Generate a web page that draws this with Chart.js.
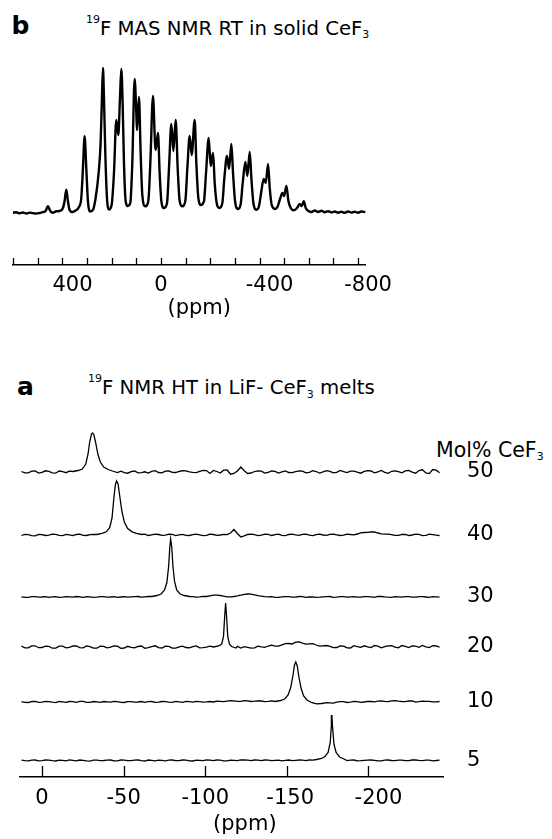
<!DOCTYPE html>
<html>
<head>
<meta charset="utf-8">
<script src="https://cdn.jsdelivr.net/npm/chart.js@4.4.0/dist/chart.umd.min.js"></script>
<style>
    html, body { margin: 0; padding: 0; background: #fff; }
    body { width: 552px; height: 839px; position: relative; overflow: hidden;
           font-family: "DejaVu Sans", "Liberation Sans", Arial, sans-serif; color: #000; }
    canvas { position: absolute; left: 0; }
    .txt { position: absolute; white-space: nowrap; line-height: 1; }
    .tag { font-size: 25px; font-weight: bold; }
    .title { font-size: 19.7px; }
    .head { font-size: 20.5px; }
    .sup { font-size: 11px; position: relative; top: -12px; }
    .sub { font-size: 11px; position: relative; top: 3.5px; }
</style>
</head>
<body>
<div class="txt tag" style="left:11.5px; top:12.5px;">b</div>
<div class="txt title" style="left:86px; top:18.8px;"><span class="sup">19</span>F MAS NMR RT in solid CeF<span class="sub">3</span></div>
<canvas id="solidChart" width="552" height="290" style="top:45px"></canvas>

<div class="txt tag" style="left:17px; top:373.5px;">a</div>
<div class="txt title" style="left:88px; top:378.3px;"><span class="sup">19</span>F NMR HT in LiF- CeF<span class="sub">3</span> melts</div>
<div class="txt head" style="left:436px; top:439.7px;">Mol% CeF<span class="sub">3</span></div>
<canvas id="meltChart" width="552" height="439" style="top:400px"></canvas>

<script>
// ---- panel b: 19F MAS NMR of solid CeF3 (ppm, intensity) ----
const solidSpectrum = [
    [601, 0.3], [587.6, 0.7], [574, -0.3], [560.5, 0.5], [547, -0.5], [533.4, 0.4], [519.9, -0.2],
    [506.4, -0.6], [492.9, 0], [479.3, 0.8], [468.5, 2.0], [459, 6.7], [449.5, 2.0], [438.7, 0.3],
    [425.1, 1.7], [411.6, 2.0], [398, 5], [391.3, 12], [384.5, 23.3], [377.8, 12], [371, 3],
    [360.1, 1.0], [346.6, 2.5], [333.1, 6], [323.6, 15], [316.8, 45], [310.1, 76.7], [303.3, 45],
    [296.6, 12], [287.1, 1.5], [276.2, 3], [265.4, 15], [253.2, 40], [245.1, 70], [239.7, 115],
    [235.6, 145], [231.5, 115], [226.1, 60], [219.3, 15], [211.2, 3.5], [200.4, 8], [190.9, 40],
    [181.4, 93], [173.3, 78], [166.5, 115], [161.1, 144], [155.7, 110], [150.3, 50], [143.5, 12],
    [135.4, 7], [124.6, 10], [116.5, 50], [107, 134], [100.2, 100], [97.5, 83], [89.4, 116],
    [82.6, 60], [75.8, 18], [63.6, 6.7], [51.5, 12], [43.3, 50], [32.5, 117], [24.4, 70],
    [21.7, 63], [12.2, 80], [5.4, 40], [-1.4, 12], [-12.2, 5], [-24.4, 10], [-32.5, 45],
    [-42, 89], [-50.1, 62], [-59.6, 93], [-67.7, 45], [-75.8, 12], [-86.6, 6.7], [-98.8, 12],
    [-107, 45], [-116.4, 77], [-124.6, 58], [-136.7, 93], [-143.5, 50], [-151.6, 15], [-162.5, 8],
    [-174.6, 12], [-182.8, 40], [-193.6, 75], [-201.7, 47], [-211.2, 60], [-218, 30], [-226.1, 10],
    [-236.9, 5], [-249.1, 10], [-257.2, 35], [-268, 57], [-276.2, 44], [-285.7, 69], [-292.4, 40],
    [-300.6, 12], [-312.7, 4], [-323.6, 9], [-331.7, 30], [-342.5, 51], [-350.6, 37], [-360.1, 61],
    [-366.9, 35], [-375, 10], [-387.2, 3.3], [-398, 7], [-407.5, 22], [-417, 34], [-425.1, 30],
    [-434.6, 49], [-441.4, 25], [-449.5, 8], [-463, 4], [-472.5, 6], [-483.3, 14], [-492.8, 20],
    [-499.6, 17], [-509.1, 27], [-517.2, 12], [-526.6, 5], [-538.8, 2.7], [-552.4, 5], [-563.2, 9],
    [-571.3, 7], [-579.5, 11.7], [-587.6, 5], [-598.4, 2], [-610.6, 1], [-624.2, 2.5], [-637.7, 1],
    [-651.2, 2.2], [-664.8, 0.8], [-678.3, 1.8], [-691.8, 0.5], [-705.4, 1.5], [-718.9, 0.3],
    [-732.4, 1.2], [-746, 0.2], [-759.5, 1.5], [-773, 0.4], [-786.6, 1.3], [-800.1, 0.2],
    [-813.6, 1.5], [-829.9, 0.8]
];
const solidTicks = [600, 500, 400, 300, 200, 100, 0, -100, -200, -300, -400, -500, -600, -700, -800];
const solidTickLabels = [400, 0, -400, -800];

// ---- panel a: 19F NMR of LiF-CeF3 melts ----
const compositions = ['50', '40', '30', '20', '10', '5'];
const meltTicks = [0, -50, -100, -150, -200];

// baseline read every 4.2 ppm, plus the points half way between (null where a peak takes over)
const gridPpm = [12.6, 8.4, 4.2, 0, -4.2, -8.4, -12.6, -16.8, -21, -25.2, -29.4, -33.6, -37.8, -42,
    -46.2, -50.4, -54.6, -58.8, -63, -67.2, -71.4, -75.6, -79.8, -84, -88.2, -92.4, -96.6, -100.8,
    -105, -109.2, -113.4, -117.6, -121.8, -126, -130.2, -134.4, -138.6, -142.8, -147, -151.2,
    -155.4, -159.6, -163.8, -168, -172.2, -176.4, -180.6, -184.8, -189, -193.2, -197.4, -201.6,
    -205.8, -210, -214.2, -218.4, -222.6, -226.8, -231, -235.2, -239.4, -243.6];
const midPpm = [10.5, 6.3, 2.1, -2.1, -6.3, -10.5, -14.7, -18.9, -23.1, -27.3, -31.5, -35.7, -39.9,
    -44.1, -48.3, -52.5, -56.7, -60.9, -65.1, -69.3, -73.5, -77.7, -81.9, -86.1, -90.3, -94.5, -98.7,
    -102.9, -107.1, -111.3, -115.5, -119.7, -123.9, -128.1, -132.3, -136.5, -140.7, -144.9, -149.1,
    -153.3, -157.5, -161.7, -165.9, -170.1, -174.3, -178.5, -182.7, -186.9, -191.1, -195.3, -199.5,
    -203.7, -207.9, -212.1, -216.3, -220.5, -224.7, -228.9, -233.1, -237.3, -241.5];

const base50 = [0.5, -0.8, 1.0, -0.4, 0.6, -1.2, 0.3, 0.8, null, null, null, null, null, null, null,
    -0.6, 0.4, -0.9, 0.2, 0.7, -0.5, 0.9, -0.3, 0.5, 1.1, -0.4, 0.6, 1.4,
    1.5, -1.0, 2.0, -1.5, 5.0, -1.5, 0.5,
    0.8, -0.4, 0.6, 0.2, -0.5, 0.4, 0.9, -0.3, 0.5, 0.1, 0.7, -0.4, 0.3, 0.8, -0.2, 0.6, 1.0, 0.2,
    -0.3, 0.7, 0.4, 1.1, -0.2, 1.5, -1.0, 2.5, -0.8];
const mid50 = [-0.9, 0.8, -1.1, 1.2, -0.8, 1.0, -0.7, null, null, null, null, null, null, null,
    0.9, -1.2, 1.0, -0.6, -1.1, 1.3, -0.9, 1.2, -0.5, 1.3, 0.2, -0.6, 1.6, -1.4, 0.5, 1.8, -2.2, 1.0,
    1.2, -1.0, 1.2, -1.1, 1.0, -1.0, 1.1, -0.7, 1.2, -0.9, 1.4, -1.0, 1.3, -0.8, 1.5, -0.6, 0.9, -1.2,
    1.4, -0.9, 1.5, -1.3, 1.2, -0.8, 1.6, -1.2, 2.2, -1.6, 1.8];

const base40 = [-0.5, 0.3, -0.8, 0.4, -0.2, 0.6, -0.6, 0.2, 0.5, -0.3, 0.4, null, null, null, null,
    null, null, null, 0.8, 0.2, 0.5, -0.2, 0.6, 0.1, -0.4, 0.4, 0.2, -0.3, 0.5, 0.0,
    0.3, 5.5, -2.0, 0.5, 0.4, -0.2, 0.6, 0.3, -0.3, 0.5, 0.2, 0.7, -0.1, 0.4, 0.0, 0.6, 0.2, -0.2,
    0.5, 1.0, 2.5, 3.2, 2.0, 0.8, 0.3, -0.3, 0.5, 0.0, 0.6, -0.4, 0.3, -0.5];
const mid40 = [0.6, -0.6, 0.7, -0.5, 0.8, -0.4, 0.7, -0.6, 0.9, -0.5, 0.6, null, null, null, null,
    null, null, null, -0.5, 0.9, -0.4, 0.8, -0.6, 0.7, -0.5, 0.9, -0.6, 0.8, -0.4, 0.6, 2.0, 1.5,
    -0.8, 0.8, -0.6, 0.9, -0.5, 0.8, -0.7, 0.9, -0.4, 0.8, -0.6, 0.9, -0.3, 0.8, -0.5, 0.9, 0.2,
    2.2, 2.6, 3.0, 1.2, 0.9, -0.4, 0.7, -0.5, 0.8, -0.6, 0.8, -0.2];

const base30 = [0.2, -0.4, 0.3, 0.0, -0.3, 0.4, -0.2, 0.1, 0.5, -0.3, 0.2, -0.1, 0.4, 0.0, -0.4, 0.3,
    0.1, 0.5, 0.2, null, null, null, null, null, null,
    0.3, 0.1, 0.5, 1.8, 1.5, 0.2, 0.5, 1.8, 3.0, 2.2, 0.8, 0.1,
    -0.3, 0.2, 0.4, -0.2, 0.3, 0.0, -0.3, 0.2, 0.5, -0.1, 0.3, 0.1, -0.2, 0.4, 0.2, 0.6, 0.1, -0.3,
    0.2, 0.4, -0.1, 0.3, 0.0, 0.4, -0.2];
const mid30 = [-0.3, 0.4, -0.2, 0.3, 0.2, -0.3, 0.4, -0.2, 0.1, 0.4, -0.3, 0.3, -0.2, 0.3, 0.0,
    -0.2, 0.4, -0.1, 0.5, null, null, null, null, null, null,
    -0.2, 0.6, 1.2, 1.9, 0.8, 0.1, 1.1, 2.6, 2.8, 1.4, 0.3,
    0.4, -0.3, 0.3, -0.2, 0.5, -0.3, 0.2, -0.1, 0.4, -0.3, 0.3, -0.2, 0.4, -0.1, 0.3, -0.3, 0.5,
    -0.2, 0.3, -0.1, 0.4, -0.2, 0.3, -0.3, 0.2];

const base20 = [0.8, -0.9, 1.2, -0.5, 0.6, -1.1, 0.9, -0.3, 1.0, -0.8, 0.4, -1.2, 0.7, -0.2, 0.9, -1.0,
    -0.4, 0.5, -1.3, 0.3, -0.6, 0.8, -1.1, 0.2, -0.5, 0.4, -0.9, -0.2, null, null, null, null,
    -1.0, -0.3, -0.8, 0.2, 1.0, 0.8, 2.2, 3.5, 4.8, 3.8, 3.2, 2.0, 1.2, 0.6,
    -0.5, 0.8, -1.0, 0.4, 1.2, -0.6, 0.9, 0.3, 1.4, -0.7, 0.6, 1.1, -0.4, 0.2, 1.3, -0.2];
const mid20 = [-0.8, 1.1, -0.7, 0.9, -1.2, 0.8, -0.9, 1.2, -0.6, 1.0, -1.1, 0.9, -0.8, 1.1, -1.3, 0.7,
    -0.9, 1.0, -0.6, 1.2, -1.0, 0.6, -1.2, 0.9, -0.8, 1.1, -0.7, 0.8, null, null, null,
    0.6, 0.4, -1.2, 0.9, -0.3, 1.8, 0.9, 3.4, 3.0, 5.0, 2.8, 3.4, 0.9, 1.5, -0.6, 1.2, -0.9, 1.3,
    -0.4, 0.2, 1.5, -0.8, 1.2, -0.2, 1.5, -0.5, 0.9, 1.6, -0.6, 1.0];

const base10 = [0.3, -0.5, 0.6, -0.2, 0.4, -0.6, 0.2, 0.5, -0.3, 0.6, -0.4, 0.1, 0.5, -0.2, 0.3, -0.5,
    0.4, 0.0, -0.3, 0.5, -0.1, 0.3, -0.4, 0.2, 0.6, -0.2, 0.4, 0.1, 0.0, 0.6, 0.9, 1.2, 0.7, 1.1,
    0.8, 1.0, 0.6, null, null, null, null, null, null, null, null,
    -0.8, -0.2, 0.3, -0.1, 0.4, 0.0, 0.5, 0.8, 0.6, 1.2, 0.9, 0.4, 1.0, 0.3, 0.7, 0.2, 0.5];
const mid10 = [-0.4, 0.5, -0.3, 0.6, -0.2, 0.5, -0.4, 0.3, 0.6, -0.3, 0.5, -0.4, 0.2, 0.6, -0.4, 0.3,
    -0.2, 0.5, 0.3, -0.4, 0.5, -0.2, 0.6, -0.3, 0.4, 0.6, -0.2, 0.5, 0.9, 0.3, 1.3, 0.6, 1.4, 0.5,
    1.2, 0.4, 1.1, null, null, null, null, null, null, null, null,
    -1.2, 0.4, -0.5, 0.6, -0.3, 0.7, 0.2, 1.1, 0.3, 1.4, 0.5, 1.2, -0.1, 0.9, 0.6, 0.1];

const base5 = [0.3, -0.4, 0.5, -0.2, 0.4, -0.5, 0.2, 0.6, -0.3, 0.1, -0.6, 0.4, 0.0, 0.5, -0.4, 0.3,
    -0.2, 0.6, -0.5, 0.2, 0.4, -0.3, 0.5, -0.1, 0.3, -0.5, 0.2, 0.6, -0.2, 0.4, -0.4, 0.1, 0.7,
    0.3, 0.5, -0.2, 0.4, 0.1, -0.3, 0.5, 0.2, 0.3, 0.6, null, null, null, null, null,
    0.4, -0.3, 0.2, 0.5, -0.4, 0.3, 0.0, 0.4, -0.2, 0.5, 0.1, 0.3, -0.3, 0.4];
const mid5 = [-0.2, 0.4, -0.3, 0.5, -0.1, 0.4, -0.3, 0.2, 0.5, -0.4, 0.3, -0.2, 0.4, -0.3, 0.5, -0.1,
    0.4, -0.2, 0.5, -0.3, 0.1, 0.4, -0.2, 0.5, -0.3, 0.4, -0.1, 0.3, 0.5, -0.3, 0.4, -0.2, 0.5, -0.1,
    0.3, 0.5, -0.2, 0.4, 0.2, -0.1, 0.5, -0.2, 0.4, null, null, null, null,
    -0.1, 0.5, -0.2, 0.4, 0.1, -0.3, 0.5, -0.2, 0.3, -0.1, 0.5, -0.2, 0.4, 0.0];

// main line of each melt (ppm, intensity)
const peak50 = [[-18.9, 0.5], [-22.1, 1.5], [-24.7, 3], [-26.8, 8], [-28.2, 18], [-29.2, 30], [-30.3, 38],
    [-31.0, 39], [-31.8, 37], [-32.9, 29], [-34.2, 18], [-35.7, 10], [-37.8, 5], [-40.5, 2.5], [-43.1, 1],
    [-46.2, -0.5]];
const peak40 = [[-33.6, 0.5], [-36.8, 1.6], [-39.4, 3.2], [-41.5, 7.5], [-42.9, 17], [-43.9, 35], [-44.9, 50],
    [-45.7, 54], [-46.6, 51], [-47.6, 39], [-48.9, 24], [-50.4, 13], [-52.5, 6.5], [-55.2, 3.2], [-57.8, 1.6],
    [-61.0, 0.5]];
const peak30 = [[-67.3, 0.5], [-70.4, 1.5], [-73.0, 3], [-75.1, 7], [-76.5, 14.5], [-77.6, 31], [-78.3, 50],
    [-78.8, 58], [-79.5, 50], [-80.2, 31], [-81.2, 15.5], [-82.5, 7], [-84.6, 3], [-87.2, 1.5], [-90.4, 0.5]];
const peak20 = [[-105.1, 0], [-108.3, 1], [-110.1, 3], [-111.2, 10.5], [-111.9, 30], [-112.5, 44], [-113.1, 30],
    [-113.8, 10.5], [-114.8, 3], [-116.1, 0.5], [-118.8, -1]];
const peak10 = [[-142.9, 0.5], [-146.1, 1.5], [-148.7, 3], [-150.8, 7], [-152.4, 14.5], [-153.8, 27],
    [-154.7, 37], [-155.5, 40], [-156.4, 36], [-157.4, 25], [-158.7, 14], [-160.3, 6], [-162.4, 2],
    [-165.0, -0.5], [-168.2, -1.8], [-171.3, -1.5], [-174.5, -0.6]];
const peak5 = [[-168.2, 1.0], [-171.3, 2.0], [-173.4, 4.0], [-175.3, 8], [-176.6, 18], [-177.3, 35], [-177.6, 45.5],
    [-178.0, 34], [-178.9, 16], [-180.2, 8], [-182.3, 3.5], [-185.0, 1.5]];

// vertical stacking of the melt traces
const stackOffsets = [305, 242, 180, 130, 75, 16.5];

const meltBaselines = [base50, base40, base30, base20, base10, base5];
const meltMids = [mid50, mid40, mid30, mid20, mid10, mid5];
const meltPeaks = [peak50, peak40, peak30, peak20, peak10, peak5];

const FONT = '"DejaVu Sans", "Liberation Sans", Arial, sans-serif';
Chart.defaults.font.family = FONT;
Chart.defaults.color = '#000';

// tick marks pointing up into the plot, as in the original figure
const upTicks = {
    id: 'upTicks',
    afterDraw(chart, args, opts) {
        const xs = chart.scales.x;
        const ctx = chart.ctx;
        const bottom = chart.chartArea.bottom;
        ctx.save();
        ctx.strokeStyle = '#000';
        ctx.lineWidth = opts.width;
        ctx.beginPath();
        xs.ticks.forEach(t => {
            const x = Math.round(xs.getPixelForValue(t.value)) + 0.5;
            ctx.moveTo(x, bottom);
            ctx.lineTo(x, bottom - opts.length);
        });
        ctx.stroke();
        ctx.restore();
    }
};

// composition label at the right end of each trace
const traceLabels = {
    id: 'traceLabels',
    afterDraw(chart, args, opts) {
        if (!opts.show) return;
        const ctx = chart.ctx;
        const ys = chart.scales.y;
        ctx.save();
        ctx.font = opts.font;
        ctx.fillStyle = '#000';
        ctx.textBaseline = 'middle';
        chart.data.datasets.forEach(ds => {
            ctx.fillText(ds.label, chart.chartArea.right + opts.gap, ys.getPixelForValue(ds.baseline));
        });
        ctx.restore();
    }
};

function buildTrace(baseVals, midVals, peakPts, offset) {
    const pts = [];
    gridPpm.forEach((p, i) => {
        if (baseVals[i] !== null) pts.push({ x: p, y: baseVals[i] + offset });
    });
    midPpm.forEach((p, i) => {
        if (midVals[i] !== null) pts.push({ x: p, y: midVals[i] + offset });
    });
    peakPts.forEach(([p, v]) => pts.push({ x: p, y: v + offset }));
    pts.sort((a, b) => a.x - b.x);
    return pts;
}

// bottom ppm axis; the scale reserves the tick padding twice, the title line height is kept small
function xAxis(min, max, tickValues, labelFn, padding, labelOffset, titleText, titleLine) {
    return {
        type: 'linear',
        reverse: true,
        min: min,
        max: max,
        afterBuildTicks: axis => { axis.ticks = tickValues.map(v => ({ value: v })); },
        grid: { display: true, drawOnChartArea: false, drawTicks: false },
        border: { display: true, color: '#000', width: 1.6 },
        ticks: {
            padding: padding,
            labelOffset: labelOffset,
            color: '#000',
            font: { size: 21, lineHeight: 1.2 },
            maxRotation: 0,
            autoSkip: false,
            callback: labelFn
        },
        title: {
            display: true,
            text: titleText,
            color: '#000',
            font: { size: 21, lineHeight: titleLine },
            padding: { top: 0, bottom: 0 }
        }
    };
}

function setupSolidChart() {
    const ctx = document.getElementById('solidChart').getContext('2d');
    const data = solidSpectrum.map(([p, v]) => ({ x: p, y: v })).sort((a, b) => a.x - b.x);
    // "0" sits on its tick while the other labels are shifted right in the original
    const labelFn = v => {
        if (!solidTickLabels.includes(v)) return '';
        return v === 0 ? '0   ' : String(v);
    };
    new Chart(ctx, {
        type: 'line',
        data: {
            datasets: [{
                data: data,
                borderColor: '#000',
                borderWidth: 2.4,
                pointRadius: 0,
                cubicInterpolationMode: 'monotone'
            }]
        },
        options: {
            responsive: false,
            animation: false,
            events: [],
            layout: { padding: { left: 12.7, right: 186.3, top: 10, bottom: 24.2 } },
            plugins: {
                legend: { display: false },
                tooltip: { enabled: false },
                upTicks: { length: 7, width: 1.3 },
                traceLabels: { show: false }
            },
            scales: {
                x: xAxis(-831, 602, solidTicks, labelFn, 8, 10, '   (ppm)', 0.22),
                y: { display: false, min: -52, max: 158 }
            }
        },
        plugins: [upTicks, traceLabels]
    });
}

function setupMeltChart() {
    const ctx = document.getElementById('meltChart').getContext('2d');
    const datasets = compositions.map((c, i) => ({
        label: c,
        baseline: stackOffsets[i],
        data: buildTrace(meltBaselines[i], meltMids[i], meltPeaks[i], stackOffsets[i]),
        borderColor: '#000',
        borderWidth: 1.3,
        pointRadius: 0,
        tension: 0
    }));
    // the last labels drift right of their ticks in the original
    const labelFn = v => {
        if (v === -150) return ' -150';
        if (v === -200) return '   -200';
        return String(v);
    };
    new Chart(ctx, {
        type: 'line',
        data: { datasets: datasets },
        options: {
            responsive: false,
            animation: false,
            events: [],
            layout: { padding: { left: 20, right: 109, top: 20, bottom: 9.2 } },
            plugins: {
                legend: { display: false },
                tooltip: { enabled: false },
                upTicks: { length: 11, width: 1.3 },
                traceLabels: { show: true, gap: 24, font: '21px ' + FONT }
            },
            scales: {
                x: xAxis(-245.7, 13.5, meltTicks, labelFn, 9, 0, '    (ppm)', 0.457),
                y: { display: false, min: 0, max: 357 }
            }
        },
        plugins: [upTicks, traceLabels]
    });
}

document.addEventListener('DOMContentLoaded', () => {
    setupSolidChart();
    setupMeltChart();
});
</script>
</body>
</html>
